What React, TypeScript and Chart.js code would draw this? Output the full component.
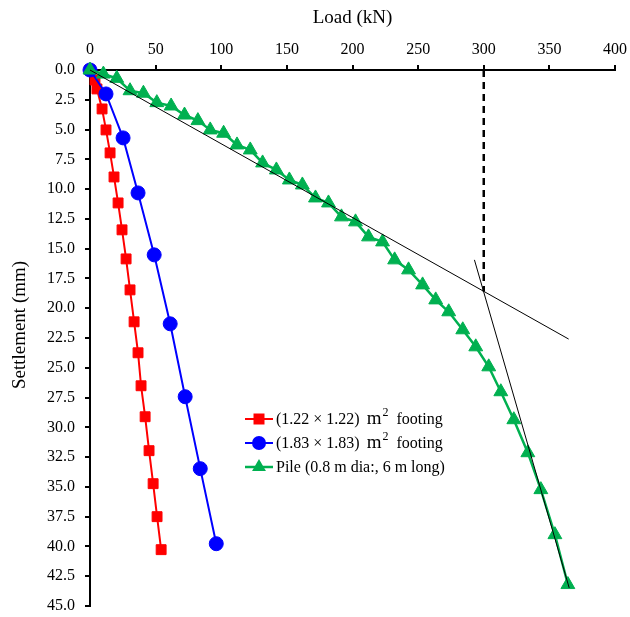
import React, { useEffect, useRef } from 'react';
import { Chart, registerables } from 'chart.js';

Chart.register(...registerables);

const FONT = '"Liberation Serif", "Times New Roman", serif';

// Load (kN) / settlement (mm) readings
const redLoad = [0, 3.8, 5.3, 9.2, 12.2, 15.3, 18.3, 21.4, 24.4, 27.5, 30.5, 33.6, 36.6, 38.9, 42.0, 45.0, 48.1, 51.1, 54.2];
const redSettle = [0, 0.84, 1.59, 3.27, 5.03, 6.96, 8.98, 11.16, 13.42, 15.86, 18.46, 21.14, 23.74, 26.51, 29.11, 31.96, 34.73, 37.5, 40.27];

const blueLoad = [0, 12.2, 25.2, 36.6, 48.9, 61.1, 72.5, 84.0, 96.2];
const blueSettle = [0, 2.01, 5.7, 10.32, 15.52, 21.31, 27.43, 33.47, 39.77];

const greenLoad = [0, 10.2, 20.4, 30.5, 40.7, 50.9, 61.8, 72.0, 82.2, 91.6, 101.8, 112.0, 122.1, 131.5, 142.0, 151.9, 161.8, 171.8, 181.7, 191.6, 202.3, 212.2, 222.9, 232.1, 242.7, 253.4, 263.4, 273.3, 284.0, 293.9, 303.8, 313.0, 322.9, 333.6, 343.5, 354.2, 364.1];
const greenSettle = [0, 0.34, 0.7, 1.74, 1.95, 2.74, 3.02, 3.78, 4.25, 5.03, 5.31, 6.29, 6.71, 7.8, 8.39, 9.23, 9.65, 10.74, 11.16, 12.33, 12.75, 14.01, 14.43, 15.94, 16.78, 18.04, 19.3, 20.3, 21.81, 23.24, 24.92, 27.01, 29.36, 32.13, 35.23, 39.01, 43.2];

// construction lines
const tangent1Load = [0, 364.7];
const tangent1Settle = [0, 22.59];
const tangent2Load = [292.9, 365.1];
const tangent2Settle = [15.94, 43.48];
const dashLoad = [300, 300];
const dashSettle = [0, 18.6];

const xTicks = [0, 50, 100, 150, 200, 250, 300, 350, 400];
const yTickStep = 2.5;

const seriesLabels = ['(1.22 \u00d7 1.22)', '(1.83 \u00d7 1.83)', 'Pile (0.8 m dia:, 6 m long)'];

const RED = '#ff0000';
const BLUE = '#0000ff';
const GREEN = '#00b050';

const pts = (xs: number[], ys: number[]) => xs.map((x, i) => ({ x, y: ys[i] }));

function drawMarker(ctx: CanvasRenderingContext2D, kind: string, x: number, y: number, color: string) {
  ctx.fillStyle = color;
  ctx.beginPath();
  if (kind === 'rect') {
    ctx.rect(x - 5.5, y - 5.5, 11, 11);
  } else if (kind === 'circle') {
    ctx.arc(x, y, 7, 0, Math.PI * 2);
  } else {
    const r = 8;
    ctx.moveTo(x, y - r);
    ctx.lineTo(x + r * Math.sin((2 * Math.PI) / 3), y + r / 2);
    ctx.lineTo(x - r * Math.sin((2 * Math.PI) / 3), y + r / 2);
    ctx.closePath();
  }
  ctx.fill();
}

export default function App() {
  const ref = useRef<HTMLCanvasElement>(null);

  useEffect(() => {
    if (!ref.current) return;

    const textPlugin = {
      id: 'customText',
      afterDraw(chart: any) {
        const ctx: CanvasRenderingContext2D = chart.ctx;
        const ca = chart.chartArea;
        ctx.save();
        ctx.fillStyle = '#000';
        ctx.textBaseline = 'middle';
        ctx.textAlign = 'center';
        ctx.font = `19px ${FONT}`;
        ctx.fillText('Load (kN)', (ca.left + ca.right) / 2, 18);
        ctx.save();
        ctx.translate(20, 325);
        ctx.rotate(-Math.PI / 2);
        ctx.fillText('Settlement (mm)', 0, 0);
        ctx.restore();

        // legend
        const rows = [
          { y: 419, color: RED, kind: 'rect', lw: 2 },
          { y: 443, color: BLUE, kind: 'circle', lw: 2 },
          { y: 467, color: GREEN, kind: 'triangle', lw: 2.5 },
        ];
        rows.forEach((r, i) => {
          ctx.strokeStyle = r.color;
          ctx.lineWidth = r.lw;
          ctx.beginPath();
          ctx.moveTo(245, r.y);
          ctx.lineTo(273, r.y);
          ctx.stroke();
          drawMarker(ctx, r.kind, 259, r.y, r.color);
          ctx.fillStyle = '#000';
          ctx.textAlign = 'left';
          ctx.textBaseline = 'middle';
          ctx.font = `16px ${FONT}`;
          let x = 276;
          ctx.fillText(seriesLabels[i], x, r.y + 1);
          if (i < 2) {
            x += ctx.measureText(seriesLabels[i]).width + 7;
            ctx.font = `19px ${FONT}`;
            ctx.fillText('m', x, r.y + 0);
            x += ctx.measureText('m').width + 1;
            ctx.font = `12px ${FONT}`;
            ctx.fillText('2', x, r.y - 6);
            x += ctx.measureText('2').width + 8;
            ctx.font = `16px ${FONT}`;
            ctx.fillText('footing', x, r.y + 1);
          }
        });
        ctx.restore();
      },
    };

    const lineDs = (xs: number[], ys: number[], extra: any) => ({
      data: pts(xs, ys),
      showLine: true,
      pointRadius: 0,
      pointHoverRadius: 0,
      borderColor: '#000',
      borderWidth: 1,
      fill: false,
      clip: false,
      ...extra,
    });

    const chart = new Chart(ref.current, {
      type: 'scatter',
      data: {
        datasets: [
          lineDs(dashLoad, dashSettle, { label: 'dash', borderWidth: 2.5, borderDash: [7, 5] }),
          lineDs(tangent1Load, tangent1Settle, { label: 't1' }),
          lineDs(tangent2Load, tangent2Settle, { label: 't2' }),
          {
            label: seriesLabels[2],
            data: pts(greenLoad, greenSettle),
            showLine: true,
            borderColor: GREEN,
            borderWidth: 2.5,
            pointStyle: 'triangle',
            pointRadius: 8,
            pointBackgroundColor: GREEN,
            pointBorderColor: GREEN,
            pointBorderWidth: 1,
            clip: false,
          },
          {
            label: seriesLabels[1],
            data: pts(blueLoad, blueSettle),
            showLine: true,
            borderColor: BLUE,
            borderWidth: 2,
            pointStyle: 'circle',
            pointRadius: 7,
            pointBackgroundColor: BLUE,
            pointBorderColor: BLUE,
            pointBorderWidth: 1,
            clip: false,
          },
          {
            label: seriesLabels[0],
            data: pts(redLoad, redSettle),
            showLine: true,
            borderColor: RED,
            borderWidth: 2,
            pointStyle: 'rect',
            pointRadius: 7,
            pointBackgroundColor: RED,
            pointBorderColor: RED,
            pointBorderWidth: 1,
            clip: false,
          },
        ],
      },
      options: {
        responsive: false,
        animation: false,
        events: [],
        layout: { padding: { left: 0, right: 15, top: 0, bottom: 11 } },
        plugins: {
          legend: { display: false },
          tooltip: { enabled: false },
          title: { display: false },
        },
        scales: {
          x: {
            type: 'linear',
            position: 'top',
            min: 0,
            max: 400,
            afterBuildTicks: (scale: any) => {
              scale.ticks = xTicks.map((v) => ({ value: v }));
            },
            afterFit: (scale: any) => {
              scale.height = 70;
              scale.paddingLeft = 0;
              scale.paddingRight = 0;
              scale.paddingTop = 0;
              scale.paddingBottom = 0;
            },
            ticks: {
              color: '#000',
              font: { family: FONT, size: 16 },
              padding: 6,
              maxRotation: 0,
            },
            grid: {
              drawOnChartArea: false,
              drawTicks: true,
              tickLength: 5,
              color: '#000',
              lineWidth: 2,
            },
            border: { display: true, color: '#000', width: 2 },
          },
          y: {
            type: 'linear',
            position: 'left',
            reverse: true,
            min: 0,
            max: 45,
            ticks: {
              stepSize: yTickStep,
              color: '#000',
              font: { family: FONT, size: 16 },
              padding: 10,
              callback: (v: any) => Number(v).toFixed(1),
            },
            afterFit: (scale: any) => {
              scale.width = 90;
              scale.paddingLeft = 0;
              scale.paddingRight = 0;
              scale.paddingTop = 0;
              scale.paddingBottom = 0;
            },
            grid: {
              drawOnChartArea: false,
              drawTicks: true,
              tickLength: 5,
              color: '#000',
              lineWidth: 2,
            },
            border: { display: true, color: '#000', width: 2 },
          },
        },
      },
      plugins: [textPlugin],
    });

    return () => chart.destroy();
  }, []);

  return (
    <div style={{ position: 'fixed', left: 0, top: 0, width: 630, height: 617, background: '#fff' }}>
      <canvas ref={ref} width={630} height={617} style={{ display: 'block' }} />
    </div>
  );
}
